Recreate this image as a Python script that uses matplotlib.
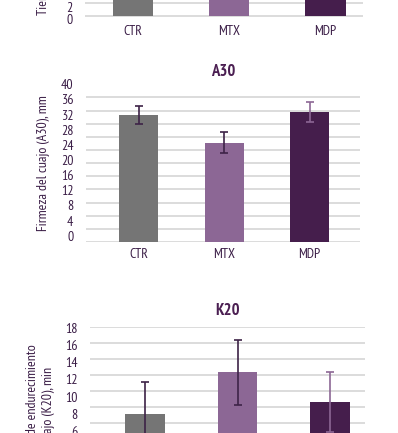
import numpy as np
import matplotlib
matplotlib.use("Agg")
import matplotlib.pyplot as plt

# data (label scale of each panel)
groups = ["CTR", "MTX", "MDP"]
r_vals = [12.0, 13.5, 12.5]          # top panel, bars cropped in the reference
r_errs = [1.5, 1.5, 1.5]
a30_vals = [31.9, 24.6, 32.7]
a30_errs = [2.3, 2.8, 2.7]
k20_vals = [8.0, 12.8, 9.4]
k20_errs = [3.7, 3.8, 3.5]

bar_colors = ["#757575", "#8c6795", "#451e4c"]
err_colors = ["#3d2347", "#3d2347", "#8c6795"]
txt_color = "#3b1e47"
grid_color = "#d9d9d9"

plt.rcParams['font.family'] = ['PT Sans Narrow', 'DejaVu Sans']

W, H = 398, 433
fig = plt.figure(figsize=(W / 100, H / 100), dpi=100)


def add_axes_px(left, right, top, bottom):
    return fig.add_axes([left / W, 1 - bottom / H, (right - left) / W, (bottom - top) / H])


def panel(ax, vals, errs, xlim, ylim, width, grid, yticks, ylabel, label_x, label_y,
          title=None, title_pad=6, label_ha='center'):
    x = np.arange(len(groups))
    base = ylim[0]
    ax.bar(x, np.array(vals) - base, bottom=base, width=width, color=bar_colors, zorder=2)
    for i in range(len(groups)):
        ax.errorbar(x[i], vals[i], yerr=errs[i], fmt='none', ecolor=err_colors[i],
                    elinewidth=1.2, capsize=2.8, capthick=1.2, zorder=3)
    ax.set_xlim(*xlim)
    ax.set_ylim(*ylim)
    ax.set_yticks(yticks)
    ax.set_yticks(grid, minor=True)
    ax.grid(which='minor', axis='y', color=grid_color, lw=1.3, zorder=0)
    ax.grid(which='major', visible=False)
    ax.set_xticks(x)
    ax.set_xticklabels(groups)
    ax.tick_params(axis='both', which='both', length=0, colors=txt_color, labelsize=10)
    ax.tick_params(axis='y', pad=9)
    ax.tick_params(axis='x', pad=4)
    for s in ax.spines.values():
        s.set_visible(False)
    ax.set_ylabel(ylabel, color=txt_color, fontsize=10, linespacing=1.3)
    ax.yaxis.set_label_coords(label_x, label_y)
    ax.yaxis.label.set_ha(label_ha)
    if title:
        ax.set_title(title, color="#4b1f52", fontsize=12, fontweight='bold', pad=title_pad)


# top panel (cropped)
ax1 = add_axes_px(85, 363, -129, 19)
panel(ax1, r_vals, r_errs, (-0.499, 2.39), (0.48, 24.16), 0.42,
      np.arange(0.48, 24.2, 2.128), [0, 2],
      "Tiempo de coagulación (R), min", -0.125, (19 - 15) / 148, label_ha='left')

# A30 panel
ax2 = add_axes_px(86, 360, 84.3, 242)
panel(ax2, a30_vals, a30_errs, (-0.614, 2.59), (-1.66, 40), 0.456,
      np.linspace(-1.66, 40, 13), np.arange(0, 41, 4),
      "Firmeza del cuajo (A30), mm", -0.13, 0.5, title="A30", title_pad=6)

# K20 panel (cropped)
ax3 = add_axes_px(90, 365, 327.3, 487.3)
panel(ax3, k20_vals, k20_errs, (-0.595, 2.378), (-0.56, 18.05), 0.43,
      np.linspace(-0.56, 18.05, 11), np.arange(6, 19, 2),
      "Velocidad de endurecimiento\ndel cuajo (K20), min", -0.128, 0.455, title="K20", title_pad=9)

fig.savefig("out.png", dpi=100)
